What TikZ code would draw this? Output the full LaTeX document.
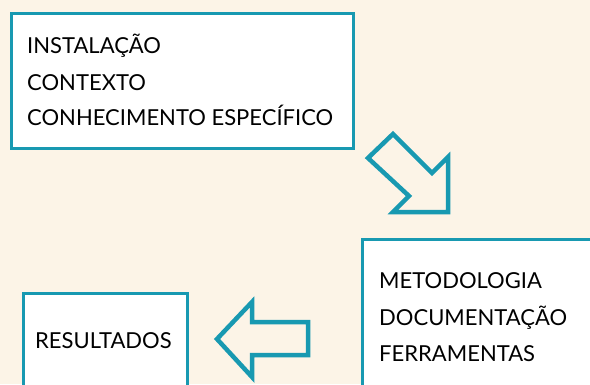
\documentclass[tikz,border=0pt]{standalone}
\usepackage{fontspec}
\setmainfont{Lato}
\definecolor{bg}{HTML}{FCF4E7}
\definecolor{teal}{HTML}{1899B1}
\begin{document}
\begin{tikzpicture}[x=1pt,y=-1pt,
  box/.style={draw=teal, line width=3pt, fill=white},
  arr/.style={draw=teal, line width=4.5pt, line join=miter, fill=bg},
  lbl/.style={anchor=base west, inner sep=0pt, font=\fontsize{22}{22}\selectfont, text=black}]
\useasboundingbox (0,0) rectangle (590,384);
\clip (0,0) rectangle (590,384);
\fill[bg] (0,0) rectangle (590,384);
% boxes
\node[box, anchor=north west, minimum width=342pt, minimum height=135pt, inner sep=0pt] (b1) at (10,12) {};
\node[box, anchor=north west, minimum width=260pt, minimum height=180pt, inner sep=0pt] (b2) at (361,238) {};
\node[box, anchor=north west, minimum width=164pt, minimum height=120pt, inner sep=0pt] (b3) at (22,292) {};
% texts
\node[lbl] (t1) at (27,53) {INSTALAÇÃO};
\node[lbl] (t2) at (27,90) {CONTEXTO};
\node[lbl] (t3) at (27,125) {CONHECIMENTO ESPECÍFICO};
\node[lbl] (t4) at (379,288) {METODOLOGIA};
\node[lbl] (t5) at (379,325) {DOCUMENTAÇÃO};
\node[lbl] (t6) at (379,361) {FERRAMENTAS};
\node[lbl] (t7) at (35,348) {RESULTADOS};
% arrow 1 (down-right)
\draw[arr] (368,158) -- (393,134) -- (432,173) -- (448,157) -- (448,212) -- (393,212) -- (409,196) -- cycle;
% arrow 2 (left)
\draw[arr] (217,339) -- (252,302) -- (252,322) -- (308,322) -- (308,355) -- (252,355) -- (252,377) -- cycle;
\end{tikzpicture}
\end{document}
